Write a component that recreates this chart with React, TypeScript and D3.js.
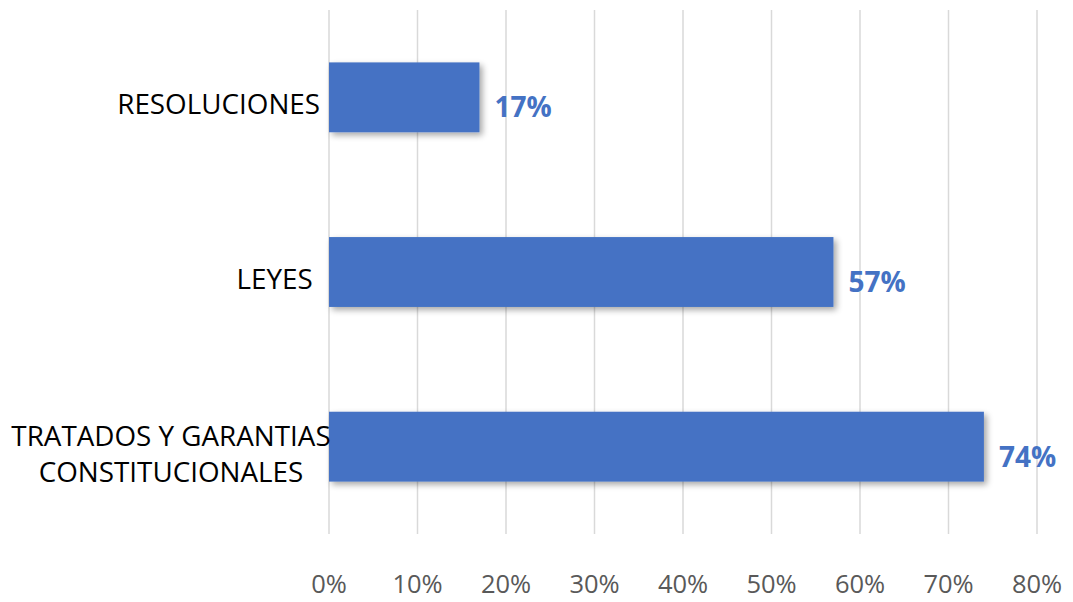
import React from "react";
import * as d3 from "d3";

const categories: string[][] = [
  ["RESOLUCIONES"],
  ["LEYES "],
  ["TRATADOS Y GARANTIAS", "CONSTITUCIONALES"],
];
const values: number[] = [0.17, 0.57, 0.74];
const ticks: number[] = [0, 0.1, 0.2, 0.3, 0.4, 0.5, 0.6, 0.7, 0.8];

const W = 1073;
const H = 602;
const left = 329;
const right = 1037;
const top = 10;
const bottom = 534;
const FONT = "'Open Sans', 'DejaVu Sans', sans-serif";
const BLUE = "#4472C4";

export default function App() {
  const x = d3.scaleLinear().domain([0, 0.8]).range([left, right]);
  const y = d3
    .scaleBand<number>()
    .domain(categories.map((_, i) => i))
    .range([top, bottom])
    .paddingInner(0.6)
    .paddingOuter(0.3);
  const fmt = d3.format(".0%");

  return (
    <svg
      width={W}
      height={H}
      style={{ position: "absolute", left: 0, top: 0, background: "#fff" }}
      fontFamily={FONT}
    >
      <defs>
        <filter id="shadow" x="-5%" y="-20%" width="115%" height="160%">
          <feGaussianBlur in="SourceAlpha" stdDeviation="3" />
          <feOffset dx="3" dy="3" result="ob" />
          <feComponentTransfer>
            <feFuncA type="linear" slope="0.35" />
          </feComponentTransfer>
          <feMerge>
            <feMergeNode />
            <feMergeNode in="SourceGraphic" />
          </feMerge>
        </filter>
      </defs>
      <rect x={0} y={0} width={W} height={H} fill="#fff" />
      {ticks.map((t) => (
        <g key={t}>
          <line
            x1={x(t)}
            x2={x(t)}
            y1={top}
            y2={bottom}
            stroke="#D9D9D9"
            strokeWidth={1.5}
          />
          <text
            x={x(t)}
            y={593}
            textAnchor="middle"
            fontSize={25.5}
            fill="#595959"
          >
            {fmt(t)}
          </text>
        </g>
      ))}
      {values.map((v, i) => {
        const y0 = y(i)!;
        const bw = y.bandwidth();
        const cy = y0 + bw / 2;
        const lines = categories[i];
        const lh = 36;
        const base = cy + 17 - ((lines.length - 1) * lh) / 2;
        const multi = lines.length > 1;
        return (
          <g key={i}>
            <rect
              x={x(0)}
              y={y0}
              width={x(v) - x(0)}
              height={bw}
              fill={BLUE}
              filter="url(#shadow)"
            />
            <text
              x={x(v) + 15}
              y={cy + 20}
              fontSize={28}
              fontWeight="bold"
              fill={BLUE}
            >
              {fmt(v)}
            </text>
            {lines.map((ln, j) => (
              <text
                key={j}
                x={multi ? 171 : x(0) - 9}
                y={base + j * lh}
                textAnchor={multi ? "middle" : "end"}
                fontSize={27.8}
                fill="#000"
                style={{ whiteSpace: "pre" }}
              >
                {ln}
              </text>
            ))}
          </g>
        );
      })}
    </svg>
  );
}
